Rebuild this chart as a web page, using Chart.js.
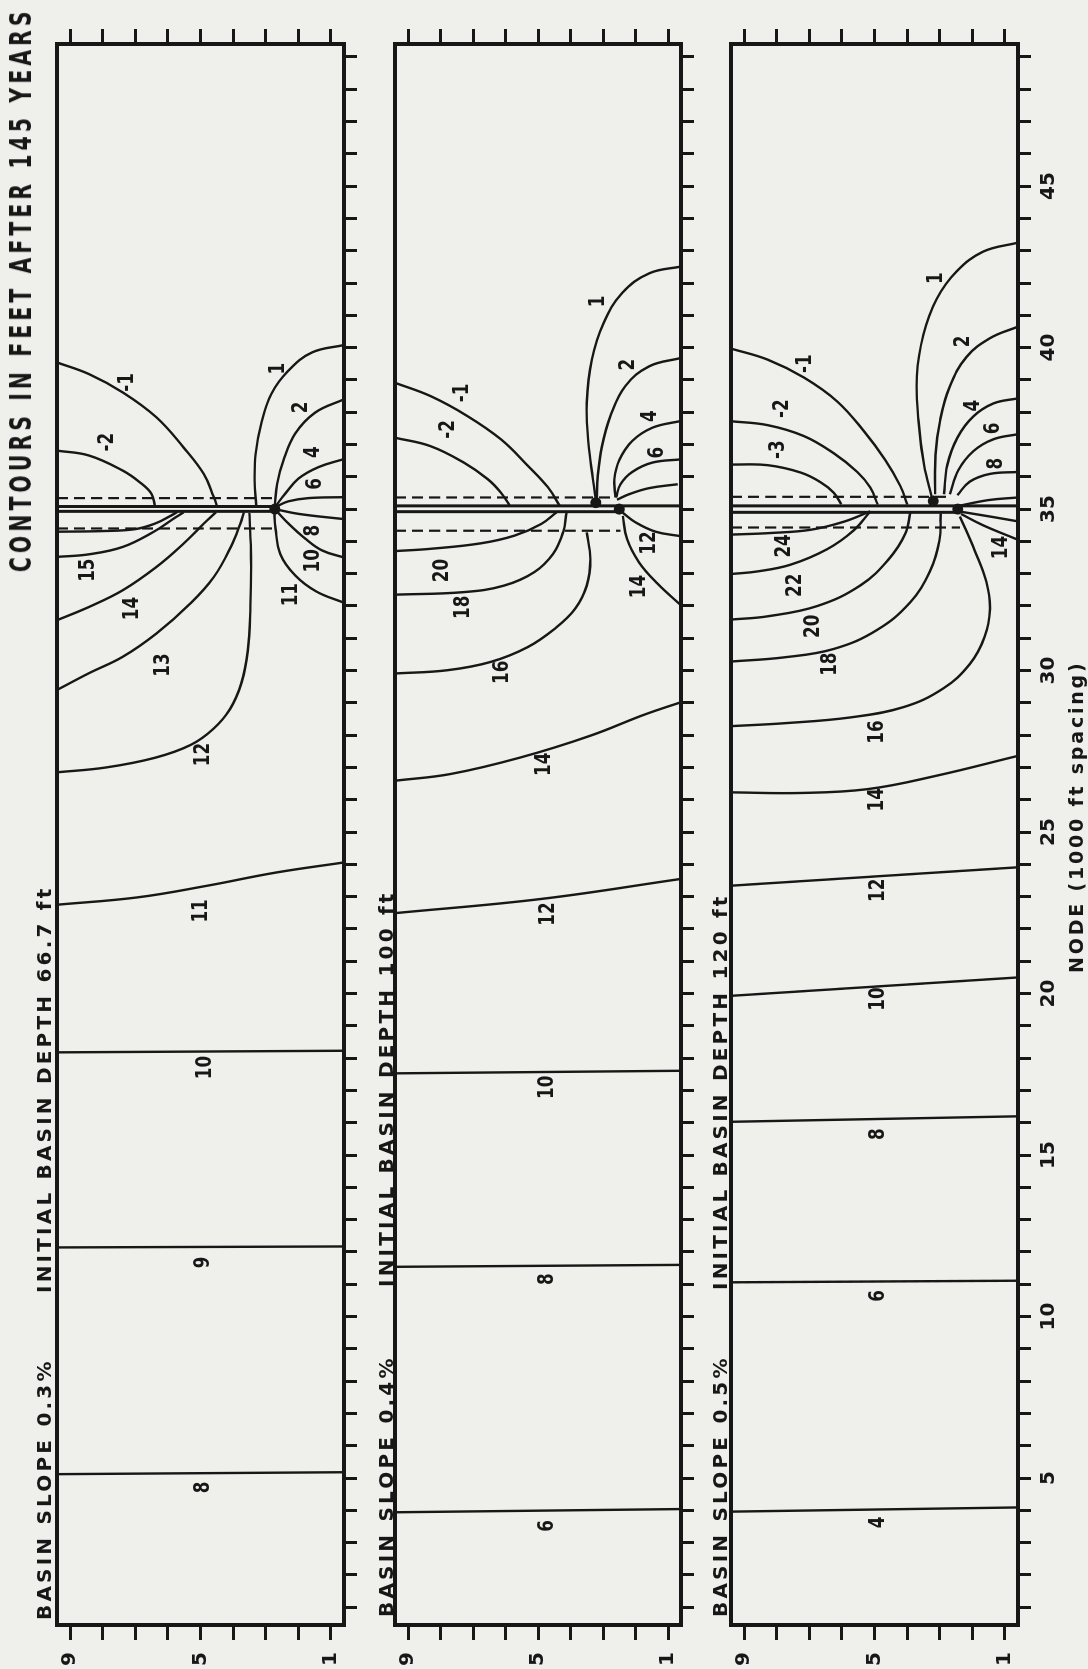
<!DOCTYPE html>
<html>
<head>
<meta charset="utf-8">
<title>Contours in feet after 145 years</title>
<script src="https://cdn.jsdelivr.net/npm/chart.js@4.4.1/dist/chart.umd.min.js"></script>
<style>
  html, body { margin: 0; padding: 0; background: #efefec; }
  body { width: 1088px; height: 1669px; position: relative; overflow: hidden; }
  /* the figure is laid out in its own (landscape) frame and turned a quarter left */
  #sheet { position: absolute; left: 0; top: 0; width: 1669px; height: 1088px;
           transform-origin: 0 0; transform: translate(0, 1669px) rotate(-90deg); }
  #sheet canvas { position: absolute; left: 0; }
  .txt { position: absolute; font-family: "DejaVu Sans", sans-serif; font-weight: bold; font-size: 20px;
         line-height: 20px; color: #171717; white-space: pre; letter-spacing: 3.2px; }
  .title { right: 7px; top: 6px; font-size: 30px; line-height: 30px; letter-spacing: 6px;
           transform-origin: 100% 50%; transform: scaleX(0.68); }
</style>
</head>
<body>
<div id="sheet">
  <canvas id="slope03" width="1669" height="370" style="top:0px"></canvas>
  <canvas id="slope04" width="1669" height="335" style="top:370px"></canvas>
  <canvas id="slope05" width="1669" height="383" style="top:705px"></canvas>
  <div class="txt" style="left:49px; top:34px">BASIN SLOPE 0.3%</div>
  <div class="txt" style="left:376px; top:34px">INITIAL BASIN DEPTH 66.7 ft</div>
  <div class="txt" style="left:52px; top:376px">BASIN SLOPE 0.4%</div>
  <div class="txt" style="left:382px; top:376px">INITIAL BASIN DEPTH 100 ft</div>
  <div class="txt" style="left:52px; top:710px">BASIN SLOPE 0.5%</div>
  <div class="txt" style="left:379px; top:710px">INITIAL BASIN DEPTH 120 ft</div>
  <div class="txt title">CONTOURS IN FEET AFTER 145 YEARS</div>
  <div class="txt" style="left:696px; top:1066px; font-size:19px; letter-spacing:2.8px">NODE (1000 ft spacing)</div>
</div>
<script>
const ink = '#171717';

// axes
const nodeTicks = Array.from({ length: 49 }, (_, i) => i + 1);
const nodeTickLabels = [5, 10, 15, 20, 25, 30, 35, 40, 45];
const rowTicks = [1, 2, 3, 4, 5, 6, 7, 8, 9];
const rowTickLabels = [1, 5, 9];

// contour lines, points are [node, row]
const slope03Lines = [
  [[5.12, 9.4], [5.18, 0.6]],
  [[12.14, 9.4], [12.17, 0.6]],
  [[18.18, 9.4], [18.23, 0.6]],
  [[22.75, 9.4], [22.98, 6.92], [23.34, 4.79], [23.75, 2.67], [24.06, 0.6]],
  [[26.85, 9.4], [27.0, 7.9], [27.3, 6.4], [27.7, 5.3], [28.2, 4.6], [28.8, 4.1], [29.6, 3.75], [30.6, 3.55], [32.0, 3.47], [33.5, 3.45], [34.88, 3.5]],
  [[29.4, 9.4], [29.92, 8.42], [30.43, 7.38], [31.15, 6.35], [32.08, 5.31], [32.9, 4.59], [33.83, 4.07], [34.55, 3.78], [34.9, 3.67]],
  [[31.56, 9.4], [31.97, 8.42], [32.49, 7.38], [33.21, 6.35], [33.93, 5.52], [34.55, 4.9], [34.9, 4.53]],
  [[33.52, 9.4], [33.6, 8.42], [33.83, 7.38], [34.29, 6.45], [34.7, 5.83], [34.9, 5.52]],
  [[34.3, 9.4], [34.32, 8.0], [34.38, 7.0], [34.55, 6.4], [34.8, 5.9], [34.92, 5.7]],
  [[39.54, 9.4], [39.18, 8.42], [38.61, 7.38], [37.84, 6.35], [36.91, 5.52], [36.09, 4.9], [35.37, 4.59], [35.1, 4.5]],
  [[36.81, 9.4], [36.66, 8.42], [36.19, 7.38], [35.83, 6.86], [35.47, 6.5], [35.1, 6.4]],
  [[40.08, 0.6], [39.85, 1.58], [39.28, 2.31], [38.56, 2.83], [37.63, 3.14], [36.71, 3.31], [35.88, 3.34], [35.1, 3.29]],
  [[38.4, 0.6], [37.99, 1.48], [37.33, 2.1], [36.5, 2.46], [35.78, 2.65], [35.12, 2.72]],
  [[36.55, 0.6], [36.3, 1.38], [35.94, 2.0], [35.47, 2.41], [35.1, 2.69]],
  [[35.37, 0.6], [35.34, 1.69], [35.24, 2.31], [35.08, 2.67]],
  [[35.0, 2.72], [34.85, 1.98], [34.69, 0.6]],
  [[35.0, 2.72], [34.54, 2.29], [34.08, 1.78], [33.72, 1.27], [33.5, 0.6]],
  [[35.0, 2.74], [34.4, 2.7], [33.6, 2.55], [32.95, 2.1], [32.45, 1.45], [32.1, 0.6]]
];
const slope03Tags = [
  ['8', 4.71, 4.9], ['9', 11.68, 4.9], ['10', 17.71, 4.85], ['11', 22.56, 4.98], ['12', 27.4, 4.9],
  ['13', 30.17, 6.14], ['14', 31.92, 7.07], ['15', 33.11, 8.42], ['-1', 38.92, 7.23], ['-2', 37.07, 7.85],
  ['1', 39.35, 2.6], ['2', 38.15, 1.89], ['4', 36.76, 1.53], ['6', 35.78, 1.48], ['8', 34.33, 1.52],
  ['10', 33.4, 1.52], ['11', 32.35, 2.2]
];
const slope03Canal = [[[35.08, 9.4], [35.08, 2.72]], [[34.93, 9.4], [34.93, 2.72]]];
const slope03Banks = [[[35.34, 9.4], [35.34, 2.62]], [[34.4, 9.4], [34.4, 2.62]]];
const slope03Joints = [[35.0, 2.72]];

const slope04Lines = [
  [[3.94, 9.4], [4.04, 0.6]],
  [[11.54, 9.4], [11.6, 0.6]],
  [[17.53, 9.4], [17.61, 0.6]],
  [[22.49, 9.4], [22.93, 4.9], [23.55, 0.6]],
  [[26.59, 9.4], [26.8, 7.68], [27.31, 5.54], [27.98, 3.4], [28.65, 1.69], [29.02, 0.6]],
  [[34.28, 3.5], [33.46, 3.39], [32.63, 3.5], [31.91, 3.86], [31.3, 4.48], [30.73, 5.31], [30.27, 6.45], [30.01, 7.8], [29.91, 9.4]],
  [[34.9, 4.12], [34.28, 4.23], [33.61, 4.54], [33.05, 5.11], [32.63, 6.05], [32.43, 7.28], [32.35, 9.4]],
  [[34.9, 4.43], [34.54, 4.9], [34.18, 5.72], [33.94, 6.76], [33.77, 8.31], [33.7, 9.4]],
  [[38.91, 9.4], [38.5, 8.31], [37.88, 7.17], [37.16, 6.14], [36.34, 5.31], [35.67, 4.69], [35.1, 4.33]],
  [[37.21, 9.4], [36.95, 8.31], [36.44, 7.28], [35.93, 6.55], [35.51, 6.14], [35.12, 5.88]],
  [[42.51, 0.6], [42.3, 1.58], [41.69, 2.41], [40.76, 2.98], [39.63, 3.34], [38.29, 3.5], [37.06, 3.45], [35.93, 3.31], [35.21, 3.21]],
  [[39.68, 0.6], [39.42, 1.58], [38.81, 2.31], [37.88, 2.77], [36.95, 3.03], [36.03, 3.16], [35.26, 3.19]],
  [[37.73, 0.6], [37.52, 1.48], [37.11, 2.1], [36.54, 2.49], [35.93, 2.65], [35.36, 2.62]],
  [[36.54, 0.6], [36.44, 1.48], [36.15, 2.1], [35.77, 2.46], [35.36, 2.6]],
  [[35.77, 0.7], [35.65, 1.58], [35.46, 2.2], [35.29, 2.57]],
  [[34.9, 2.41], [34.59, 2.0], [34.3, 1.38], [34.16, 0.6]],
  [[34.79, 2.39], [34.07, 2.26], [33.35, 1.89], [32.69, 1.32], [32.02, 0.6]]
];
const slope04Tags = [
  ['6', 3.52, 4.72], ['8', 11.16, 4.72], ['10', 17.1, 4.72], ['12', 22.46, 4.69], ['14', 27.1, 4.79],
  ['16', 29.95, 6.09], ['18', 31.96, 7.28], ['20', 33.1, 7.95], ['-1', 38.6, 7.33], ['-2', 37.47, 7.74],
  ['1', 41.43, 3.14], ['2', 39.47, 2.2], ['4', 37.88, 1.53], ['6', 36.75, 1.32], ['12', 33.95, 1.58],
  ['14', 32.6, 1.89]
];
const slope04Canal = [[[35.1, 9.4], [35.1, 0.6]], [[34.92, 9.4], [34.92, 2.45]]];
const slope04Banks = [[[35.36, 9.4], [35.36, 2.62]], [[34.33, 9.4], [34.33, 2.46]]];
const slope04Joints = [[35.0, 2.5], [35.2, 3.22]];

const slope05Lines = [
  [[3.96, 9.4], [4.09, 0.6]],
  [[11.06, 9.4], [11.11, 0.6]],
  [[16.03, 9.4], [16.2, 0.6]],
  [[19.93, 9.4], [20.5, 0.6]],
  [[23.34, 9.4], [23.91, 0.6]],
  [[26.23, 9.4], [26.21, 7.31], [26.33, 5.21], [26.74, 3.12], [27.36, 0.6]],
  [[34.77, 2.38], [33.7, 1.92], [32.75, 1.57], [31.9, 1.46], [31.05, 1.62], [30.2, 2.08], [29.45, 2.89], [28.87, 4.11], [28.55, 5.74], [28.37, 7.77], [28.28, 9.4]],
  [[34.87, 2.97], [34.02, 3.01], [33.07, 3.3], [32.11, 3.91], [31.26, 4.92], [30.67, 6.25], [30.41, 7.77], [30.28, 9.4]],
  [[34.93, 3.89], [34.23, 4.06], [33.44, 4.57], [32.64, 5.43], [32.0, 6.75], [31.68, 8.28], [31.58, 9.4]],
  [[34.93, 5.13], [34.34, 5.64], [33.76, 6.45], [33.28, 7.57], [33.07, 8.59], [32.99, 9.4]],
  [[34.93, 5.13], [34.61, 5.94], [34.36, 6.96], [34.26, 8.18], [34.21, 9.4]],
  [[39.97, 9.4], [39.63, 8.28], [39.07, 7.16], [38.33, 6.14], [37.42, 5.33], [36.52, 4.67], [35.72, 4.21], [35.14, 3.99]],
  [[37.72, 9.4], [37.6, 8.28], [37.26, 7.16], [36.73, 6.25], [36.15, 5.53], [35.67, 5.13], [35.14, 4.9]],
  [[36.38, 9.4], [36.36, 8.28], [36.13, 7.26], [35.83, 6.65], [35.51, 6.25], [35.15, 6.02]],
  [[43.25, 0.6], [42.97, 1.67], [42.36, 2.48], [41.51, 3.09], [40.4, 3.5], [39.12, 3.7], [37.74, 3.65], [36.36, 3.48], [35.35, 3.24]],
  [[40.65, 0.6], [40.29, 1.46], [39.71, 2.18], [38.8, 2.69], [37.74, 2.99], [36.68, 3.13], [35.46, 3.14]],
  [[38.43, 0.6], [38.27, 1.36], [37.87, 1.97], [37.21, 2.46], [36.36, 2.77], [35.46, 2.87]],
  [[37.32, 0.6], [37.16, 1.36], [36.79, 1.97], [36.2, 2.43], [35.46, 2.69]],
  [[36.15, 0.6], [36.09, 1.46], [35.85, 2.08], [35.43, 2.46]],
  [[35.1, 2.42], [35.28, 1.5], [35.36, 0.6]],
  [[34.93, 2.42], [34.77, 1.46], [34.62, 0.6]],
  [[34.85, 2.35], [34.5, 1.67], [34.05, 0.6]]
];
const slope05Tags = [
  ['4', 3.63, 4.89], ['6', 10.64, 4.89], ['8', 15.65, 4.89], ['10', 19.83, 4.89], ['12', 23.2, 4.89],
  ['14', 26.0, 4.9], ['16', 28.1, 4.92], ['18', 30.2, 6.35], ['20', 31.37, 6.86], ['22', 32.64, 7.42],
  ['24', 33.86, 7.77], ['-1', 39.5, 7.11], ['-2', 38.11, 7.82], ['-3', 36.84, 7.93], ['1', 42.15, 3.09],
  ['2', 40.19, 2.28], ['4', 38.2, 1.95], ['6', 37.5, 1.35], ['8', 36.41, 1.26], ['14', 33.81, 1.11]
];
const slope05Canal = [[[35.1, 9.4], [35.1, 0.6]], [[34.9, 9.4], [34.9, 2.4]]];
const slope05Banks = [[[35.38, 9.4], [35.38, 2.68]], [[34.43, 9.4], [34.43, 2.38]]];
const slope05Joints = [[35.0, 2.45], [35.25, 3.2]];

// frame round the plot area
const framePlugin = {
  id: 'frame',
  afterDraw(chart) {
    const { ctx, chartArea: a } = chart;
    ctx.save();
    ctx.strokeStyle = ink;
    ctx.lineWidth = 4;
    ctx.strokeRect(a.left, a.top, a.right - a.left, a.bottom - a.top);
    ctx.restore();
  }
};

// contour values written next to the lines (lettering is a bit narrow)
function tagPlugin(tags) {
  return {
    id: 'tags',
    afterDatasetsDraw(chart) {
      const { ctx, scales } = chart;
      ctx.save();
      ctx.fillStyle = ink;
      ctx.font = 'bold 21px "DejaVu Sans"';
      ctx.textAlign = 'center';
      ctx.textBaseline = 'middle';
      tags.forEach(t => {
        ctx.save();
        ctx.translate(scales.x.getPixelForValue(t[1]), scales.y.getPixelForValue(t[2]));
        ctx.scale(0.8, 1);
        ctx.fillText(t[0], 0, 0);
        ctx.restore();
      });
      ctx.restore();
    }
  };
}

function lineSet(pts, width, dash) {
  return {
    data: pts.map(p => ({ x: p[0], y: p[1] })),
    showLine: true,
    borderColor: ink,
    borderWidth: width,
    borderDash: dash || [],
    pointRadius: 0,
    pointHoverRadius: 0,
    tension: 0.4,
    fill: false
  };
}

function drawPanel(id, lines, tags, canal, banks, joints, box) {
  const datasets = lines.map(pts => lineSet(pts, 2.4));
  canal.forEach(pts => datasets.push(lineSet(pts, 3)));
  banks.forEach(pts => datasets.push(lineSet(pts, 2.2, [11, 6])));
  datasets.push({
    data: joints.map(p => ({ x: p[0], y: p[1] })),
    showLine: false,
    pointRadius: 5.5,
    pointBackgroundColor: ink,
    pointBorderWidth: 0
  });

  const tickFont = { family: 'DejaVu Sans', size: 20, weight: 'bold' };

  const rowAxis = (side, withLabels) => ({
    type: 'linear',
    position: side,
    min: 0.6,
    max: 9.4,
    afterBuildTicks: s => { s.ticks = rowTicks.map(v => ({ value: v })); },
    ticks: {
      autoSkip: false,
      padding: 12,
      color: ink,
      font: tickFont,
      callback: v => (withLabels && rowTickLabels.includes(v)) ? String(v) : ''
    },
    grid: { drawOnChartArea: false, tickLength: 15, tickWidth: 3, color: ink, tickColor: ink },
    border: { display: false },
    afterFit: s => { s.width = side === 'left' ? 40 : 20; }
  });

  new Chart(document.getElementById(id), {
    type: 'scatter',
    data: { datasets },
    options: {
      responsive: false,
      animation: false,
      events: [],
      layout: { padding: { left: 4, right: 24, top: box.top, bottom: box.bottom } },
      plugins: {
        legend: { display: false },
        tooltip: { enabled: false },
        title: { display: false }
      },
      scales: {
        x: {
          type: 'linear',
          min: 0.45,
          max: 49.4,
          afterBuildTicks: s => { s.ticks = nodeTicks.map(v => ({ value: v })); },
          ticks: {
            autoSkip: false,
            maxRotation: 0,
            padding: 6,
            color: ink,
            font: tickFont,
            callback: v => (box.nodeLabels && nodeTickLabels.includes(v)) ? String(v) : ''
          },
          grid: { drawOnChartArea: false, tickLength: 13, tickWidth: 3, color: ink, tickColor: ink },
          border: { display: false },
          afterFit: s => { s.height = box.axis; }
        },
        y: rowAxis('left', true),
        y2: rowAxis('right', false)
      }
    },
    plugins: [framePlugin, tagPlugin(tags)]
  });
}

drawPanel('slope03', slope03Lines, slope03Tags, slope03Canal, slope03Banks, slope03Joints,
  { top: 57, bottom: 6, axis: 20, nodeLabels: false });
drawPanel('slope04', slope04Lines, slope04Tags, slope04Canal, slope04Banks, slope04Joints,
  { top: 25, bottom: 3, axis: 20, nodeLabels: false });
drawPanel('slope05', slope05Lines, slope05Tags, slope05Canal, slope05Banks, slope05Joints,
  { top: 26, bottom: 20, axis: 50, nodeLabels: true });
</script>
</body>
</html>
